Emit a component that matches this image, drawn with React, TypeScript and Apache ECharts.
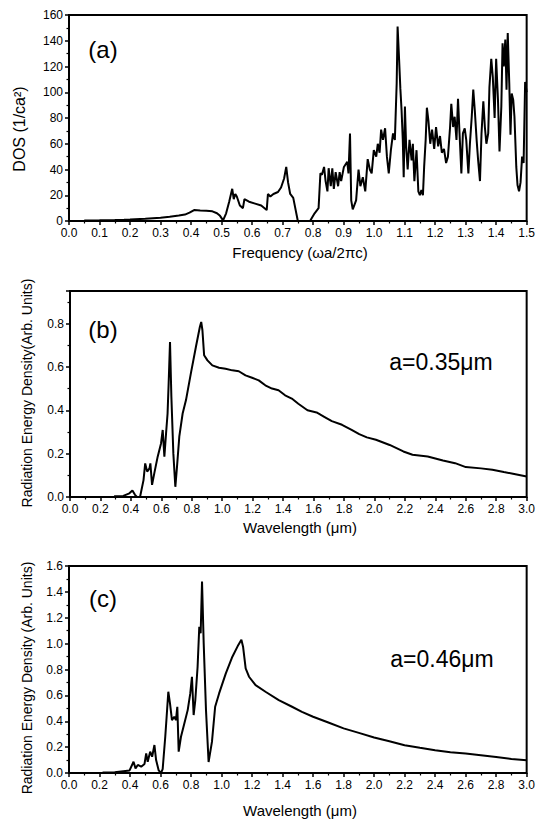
import React, { useEffect, useRef } from "react";
import * as echarts from "echarts";

// Panel (a): density of states vs. normalized frequency
const dosPoints: [number, number][] = [
  [0.05, 0.3], [0.1, 0.5], [0.15, 0.8], [0.18, 1], [0.2, 1.2], [0.25, 1.8], [0.3, 2.6],
  [0.33, 3.3], [0.36, 4.2], [0.38, 5], [0.395, 6.5], [0.41, 8.5], [0.43, 8.2], [0.45, 8],
  [0.47, 7.5], [0.485, 6], [0.495, 4], [0.505, 0.5], [0.515, 6], [0.525, 15], [0.535, 25],
  [0.54, 17], [0.545, 21], [0.55, 19], [0.56, 12], [0.57, 10], [0.575, 17], [0.59, 15],
  [0.61, 13.5], [0.63, 12], [0.648, 8.5], [0.652, 21], [0.66, 19], [0.67, 21], [0.685, 22.5],
  [0.695, 26], [0.705, 33], [0.712, 42], [0.718, 30], [0.725, 21], [0.735, 18], [0.75, 0],
  [0.79, 0], [0.805, 6], [0.818, 10], [0.824, 37], [0.829, 36], [0.836, 42], [0.841, 31],
  [0.847, 23], [0.851, 41], [0.858, 27], [0.863, 41], [0.868, 25], [0.874, 38], [0.882, 27],
  [0.887, 38], [0.892, 31], [0.901, 42], [0.912, 46], [0.916, 37], [0.921, 68], [0.925, 16],
  [0.93, 9], [0.941, 16], [0.949, 40], [0.955, 27], [0.963, 34], [0.971, 23], [0.979, 48],
  [0.986, 40], [0.992, 37], [0.999, 55], [1.007, 50], [1.012, 60], [1.018, 53], [1.023, 71],
  [1.029, 63], [1.036, 72], [1.042, 50], [1.048, 37], [1.055, 55], [1.062, 68], [1.068, 63],
  [1.074, 107], [1.077, 151], [1.082, 125], [1.086, 103], [1.09, 86], [1.094, 63], [1.097, 34],
  [1.101, 89], [1.105, 58], [1.11, 40], [1.116, 63], [1.123, 47], [1.127, 60], [1.132, 31],
  [1.139, 55], [1.145, 23], [1.15, 20], [1.155, 24], [1.16, 20], [1.164, 42], [1.169, 63],
  [1.173, 88], [1.178, 78], [1.184, 60], [1.19, 71], [1.197, 56], [1.203, 73], [1.21, 58],
  [1.216, 66], [1.222, 53], [1.229, 56], [1.236, 45], [1.242, 50], [1.249, 73], [1.253, 91],
  [1.259, 73], [1.264, 81], [1.27, 63], [1.275, 95], [1.28, 68], [1.286, 37], [1.291, 68],
  [1.297, 72], [1.302, 63], [1.309, 37], [1.314, 60], [1.32, 81], [1.325, 102], [1.33, 86],
  [1.336, 63], [1.341, 47], [1.347, 31], [1.352, 68], [1.358, 93], [1.363, 73], [1.368, 60],
  [1.374, 68], [1.378, 104], [1.384, 126], [1.389, 112], [1.395, 80], [1.4, 126], [1.406, 94],
  [1.411, 54], [1.417, 89], [1.421, 138], [1.425, 120], [1.43, 141], [1.434, 102], [1.438, 146],
  [1.443, 107], [1.447, 67], [1.451, 99], [1.456, 94], [1.46, 81], [1.466, 42], [1.47, 28],
  [1.475, 23], [1.48, 30], [1.485, 50], [1.49, 45], [1.495, 108], [1.5, 100],
];

// Panel (b): radiation energy density, a = 0.35 um
const spectrumB: [number, number][] = [
  [0.29, 0.003], [0.35, 0.005], [0.39, 0.017], [0.41, 0.03], [0.427, 0.01], [0.44, 0], [0.46, 0],
  [0.483, 0.078], [0.494, 0.155], [0.507, 0.117], [0.522, 0.132], [0.528, 0.155], [0.539, 0.056],
  [0.554, 0.11], [0.576, 0.186], [0.598, 0.247], [0.609, 0.309], [0.62, 0.186], [0.631, 0.293],
  [0.641, 0.385], [0.648, 0.523], [0.657, 0.715], [0.666, 0.462], [0.679, 0.2], [0.692, 0.047],
  [0.703, 0.14], [0.718, 0.278], [0.74, 0.385], [0.762, 0.447], [0.794, 0.57], [0.827, 0.692],
  [0.853, 0.784], [0.862, 0.807], [0.87, 0.769], [0.881, 0.654], [0.903, 0.63], [0.935, 0.607],
  [0.979, 0.596], [1.022, 0.591], [1.066, 0.584], [1.109, 0.58], [1.153, 0.561], [1.196, 0.55],
  [1.24, 0.538], [1.283, 0.515], [1.327, 0.5], [1.37, 0.492], [1.413, 0.469], [1.457, 0.454],
  [1.5, 0.43], [1.56, 0.4], [1.62, 0.39], [1.67, 0.37], [1.72, 0.35], [1.787, 0.333], [1.85, 0.31],
  [1.9, 0.29], [1.95, 0.275], [2.01, 0.264], [2.1, 0.24], [2.19, 0.21], [2.25, 0.195],
  [2.35, 0.187], [2.45, 0.168], [2.53, 0.156], [2.6, 0.138], [2.7, 0.132], [2.775, 0.126],
  [2.85, 0.115], [2.91, 0.107], [3.0, 0.095],
];

// Panel (c): radiation energy density, a = 0.46 um
const spectrumC: [number, number][] = [
  [0.22, 0.003], [0.3, 0.005], [0.397, 0.02], [0.423, 0.087], [0.436, 0.036], [0.451, 0.062],
  [0.473, 0.049], [0.495, 0.07], [0.506, 0.152], [0.516, 0.087], [0.532, 0.165], [0.545, 0.126],
  [0.56, 0.216], [0.571, 0.1], [0.588, 0.02], [0.603, 0], [0.614, 0.03], [0.631, 0.28],
  [0.64, 0.435], [0.651, 0.628], [0.662, 0.538], [0.675, 0.409], [0.69, 0.435], [0.701, 0.409],
  [0.71, 0.512], [0.719, 0.165], [0.734, 0.28], [0.756, 0.383], [0.778, 0.486], [0.795, 0.615],
  [0.806, 0.744], [0.817, 0.448], [0.828, 0.564], [0.843, 0.821], [0.854, 1.13], [0.863, 1.08],
  [0.872, 1.48], [0.883, 1.0], [0.898, 0.486], [0.915, 0.085], [0.937, 0.24], [0.958, 0.512],
  [0.984, 0.615], [1.028, 0.77], [1.071, 0.899], [1.11, 0.99], [1.13, 1.03], [1.141, 0.976],
  [1.158, 0.809], [1.18, 0.744], [1.223, 0.679], [1.288, 0.628], [1.375, 0.564], [1.462, 0.512],
  [1.527, 0.473], [1.6, 0.435], [1.7, 0.39], [1.8, 0.345], [1.9, 0.31], [2.0, 0.275],
  [2.1, 0.245], [2.2, 0.215], [2.3, 0.195], [2.4, 0.176], [2.5, 0.16], [2.6, 0.15], [2.7, 0.137],
  [2.8, 0.124], [2.9, 0.108], [3.0, 0.098],
];

const panelLabels = ["(a)", "(b)", "(c)"];
const latticeNotes = ["a=0.35\u03bcm", "a=0.46\u03bcm"];
const xTitles = ["Frequency (\u03c9a/2\u03c0c)", "Wavelength (\u03bcm)", "Wavelength (\u03bcm)"];
const yTitles = [
  "DOS (1/ca\u00b2)",
  "Radiation Energy Density(Arb. Units)",
  "Radiation Energy Density (Arb. Units)",
];

const FONT = "'Liberation Sans', Arial, Helvetica, sans-serif";

function xAxisCfg(gridIndex: number, max: number, interval: number) {
  return {
    type: "value",
    gridIndex,
    min: 0,
    max,
    interval,
    axisLine: { show: true, lineStyle: { color: "#000", width: 1.5 } },
    axisTick: { show: true, length: 4, lineStyle: { color: "#000", width: 1.5 } },
    minorTick: { show: true, splitNumber: 2, length: 2.5, lineStyle: { color: "#000", width: 1.2 } },
    splitLine: { show: false },
    axisLabel: {
      color: "#000",
      fontSize: 12,
      fontFamily: FONT,
      margin: 6,
      formatter: (v: number) => v.toFixed(1),
    },
  };
}

function yAxisCfg(
  gridIndex: number,
  max: number,
  interval: number,
  fmt: (v: number) => string
) {
  return {
    type: "value",
    gridIndex,
    min: 0,
    max,
    interval,
    axisLine: { show: true, lineStyle: { color: "#000", width: 1.5 } },
    axisTick: { show: true, length: 4, lineStyle: { color: "#000", width: 1.5 } },
    minorTick: { show: true, splitNumber: 2, length: 2.5, lineStyle: { color: "#000", width: 1.2 } },
    splitLine: { show: false },
    axisLabel: {
      color: "#000",
      fontSize: 12,
      fontFamily: FONT,
      margin: 6,
      formatter: fmt,
      showMaxLabel: true,
    },
  };
}

const lineSeries = (data: [number, number][], idx: number) => ({
  type: "line",
  xAxisIndex: idx,
  yAxisIndex: idx,
  data,
  showSymbol: false,
  symbol: "none",
  lineStyle: { color: "#000", width: 2 },
  silent: true,
});

export default function App() {
  const ref = useRef<HTMLDivElement>(null);
  useEffect(() => {
    if (!ref.current) return;
    const chart = echarts.init(ref.current, null, { renderer: "svg" });
    const gridStyle = { show: true, borderColor: "#000", borderWidth: 2, backgroundColor: "transparent" };
    const text = (t: string, x: number, y: number, size: number, rotate = 0) => ({
      type: "text",
      x,
      y,
      rotation: rotate,
      style: {
        text: t,
        fill: "#000",
        fontSize: size,
        fontFamily: FONT,
        textAlign: "center",
        textVerticalAlign: "middle",
      },
    });
    chart.setOption({
      animation: false,
      backgroundColor: "#fff",
      grid: [
        { left: 69, top: 15, width: 461, height: 206, ...gridStyle },
        { left: 70, top: 291, width: 460, height: 206, ...gridStyle },
        { left: 69, top: 566, width: 461, height: 207, ...gridStyle },
      ],
      xAxis: [xAxisCfg(0, 1.5, 0.1), xAxisCfg(1, 3.0, 0.2), xAxisCfg(2, 3.0, 0.2)],
      yAxis: [
        yAxisCfg(0, 160, 20, (v: number) => String(Math.round(v))),
        yAxisCfg(1, 0.95, 0.2, (v: number) =>
          Math.abs(v / 0.2 - Math.round(v / 0.2)) < 1e-6 ? v.toFixed(1) : ""
        ),
        yAxisCfg(2, 1.6, 0.2, (v: number) => v.toFixed(1)),
      ],
      series: [lineSeries(dosPoints, 0), lineSeries(spectrumB, 1), lineSeries(spectrumC, 2)],
      graphic: [
        text(panelLabels[0], 103, 49, 24),
        text(panelLabels[1], 103, 329, 24),
        text(panelLabels[2], 103, 598, 24),
        text(latticeNotes[0], 441, 362, 23),
        text(latticeNotes[1], 442, 659, 23),
        text(xTitles[0], 300, 252, 15),
        text(xTitles[1], 300, 527, 15),
        text(xTitles[2], 300, 810, 15),
        text(yTitles[0], 19, 129, 16, Math.PI / 2),
        text(yTitles[1], 27, 393, 14, Math.PI / 2),
        text(yTitles[2], 27, 678, 14, Math.PI / 2),
      ],
    });
    return () => chart.dispose();
  }, []);
  return (
    <div
      ref={ref}
      style={{ position: "fixed", left: 0, top: 0, width: 538, height: 825, background: "#fff" }}
    />
  );
}
